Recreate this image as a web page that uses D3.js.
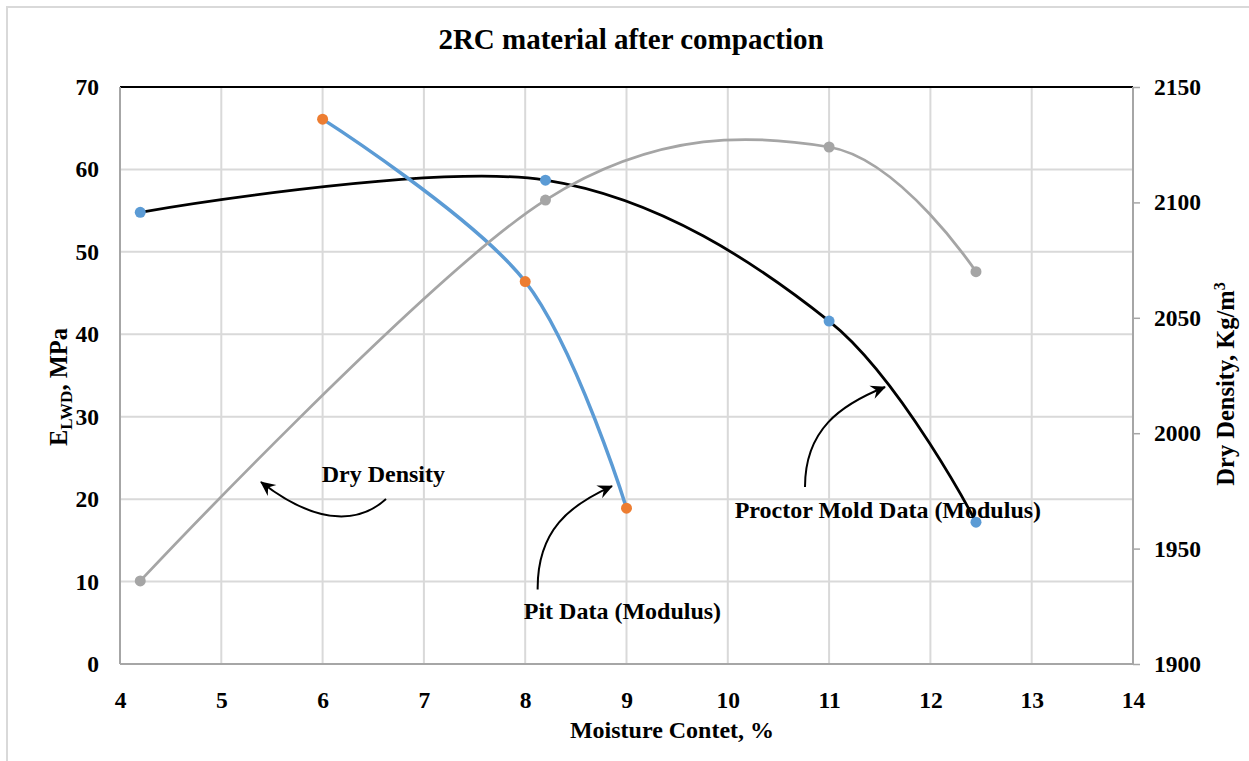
<!DOCTYPE html>
<html><head><meta charset="utf-8">
<script src="https://cdn.jsdelivr.net/npm/d3@7"></script>
<style>
body{margin:0;background:#fff}
text{font-family:"Liberation Serif","Times New Roman",serif;font-weight:bold;fill:#000}
</style>
</head><body>
<svg id="c" width="1249" height="761"></svg>
<script>
// ---- data ----
const xTicks = [4,5,6,7,8,9,10,11,12,13,14];
const yTicks = [0,10,20,30,40,50,60,70];
const y2Ticks = [1900,1950,2000,2050,2100,2150];
const proctorX = [4.2, 8.2, 11, 12.45];
const proctorY = [54.8, 58.7, 41.6, 17.2];
const pitX = [6, 8, 9];
const pitY = [66.1, 46.4, 18.9];
const densX = [4.2, 8.2, 11, 12.45];
const densY = [1936, 2101, 2124, 2070];
const title = "2RC material after compaction";
const xLabel = "Moisture Contet, %";
const annLabels = ["Dry Density", "Pit Data (Modulus)", "Proctor Mold Data (Modulus)"];
const annPos = [[6.6, 22.1], [8.96, 5.42], [11.58, 17.68]];
// arrows in data units (start, ctrl1, ctrl2, end)
const arrows = [
  [[6.626,20.02],[6.40,17.47],[6.0,16.26],[5.392,22.08]],
  [[8.123,9.04],[8.117,16.26],[8.442,19.29],[8.857,21.59]],
  [[10.762,21.47],[10.762,28.39],[11.108,31.42],[11.552,33.60]]
];

// ---- layout ----
const L=120, R=1133, T=87, B=664;
const FONT='"Liberation Serif","Times New Roman",serif';
const svg = d3.select("#c");
const x = d3.scaleLinear().domain([4,14]).range([L,R]);
const y = d3.scaleLinear().domain([0,70]).range([B,T]);
const y2 = d3.scaleLinear().domain([1900,2150]).range([B,T]);

// outer border
svg.append("rect").attr("x",7).attr("y",7).attr("width",1400).attr("height",900)
  .attr("fill","none").attr("stroke","#d9d9d9").attr("stroke-width",2);

// title
svg.append("text").attr("x",631).attr("y",49).attr("text-anchor","middle")
  .style("font-size","29px").text(title);

// gridlines
svg.append("g").selectAll("line").data(xTicks.slice(1,-1)).join("line")
  .attr("x1",d=>x(d)).attr("x2",d=>x(d)).attr("y1",T).attr("y2",B)
  .attr("stroke","#d9d9d9").attr("stroke-width",2);
svg.append("g").selectAll("line").data(yTicks.slice(1,-1)).join("line")
  .attr("y1",d=>y(d)).attr("y2",d=>y(d)).attr("x1",L).attr("x2",R)
  .attr("stroke","#d9d9d9").attr("stroke-width",2);

// axes lines
svg.append("line").attr("x1",L).attr("x2",R).attr("y1",T).attr("y2",T).attr("stroke","#000").attr("stroke-width",2);
svg.append("line").attr("x1",L).attr("x2",R).attr("y1",B).attr("y2",B).attr("stroke","#a6a6a6").attr("stroke-width",2);
svg.append("line").attr("x1",L).attr("x2",L).attr("y1",T).attr("y2",B).attr("stroke","#a6a6a6").attr("stroke-width",2);

function styleTicks(g){
  g.selectAll("text").style("font-size","23.5px").style("font-family",FONT).style("font-weight","bold").attr("fill","#000");
}
// bottom axis labels
const xa = svg.append("g").attr("transform",`translate(0,${B})`)
  .call(d3.axisBottom(x).tickValues(xTicks).tickSize(0).tickPadding(27).tickFormat(d3.format("d")));
xa.select(".domain").remove(); styleTicks(xa);

// left axis labels
const ya = svg.append("g").attr("transform",`translate(${L},0)`)
  .call(d3.axisLeft(y).tickValues(yTicks).tickSize(0).tickPadding(21).tickFormat(d3.format("d")));
ya.select(".domain").remove(); styleTicks(ya);

// right axis
const y2a = svg.append("g").attr("transform",`translate(${R},0)`)
  .call(d3.axisRight(y2).tickValues(y2Ticks).tickSize(7).tickPadding(14).tickFormat(d3.format("d")));
y2a.select(".domain").attr("stroke","#a6a6a6").attr("stroke-width",2).attr("d",`M0,${T}V${B}`);
y2a.selectAll(".tick line").attr("stroke","#a6a6a6").attr("stroke-width",1.5);
styleTicks(y2a);

// axis titles
svg.append("text").attr("x",672).attr("y",738).attr("text-anchor","middle").style("font-size","24px").text(xLabel);
const yl = svg.append("text").attr("transform","translate(67,387) rotate(-90)").attr("text-anchor","middle").style("font-size","24.5px");
yl.append("tspan").text("E");
yl.append("tspan").attr("dy",5).style("font-size","17px").text("LWD");
yl.append("tspan").attr("dy",-5).text(", MPa");
const yr = svg.append("text").attr("transform","translate(1234,384) rotate(-90)").attr("text-anchor","middle").style("font-size","24.5px");
yr.append("tspan").text("Dry Density, Kg/m");
yr.append("tspan").attr("dy",-9).style("font-size","16px").text("3");

// series
const curve = d3.curveCardinal.tension(0);
const proctor = proctorX.map((v,i)=>[v,proctorY[i]]);
const pit = pitX.map((v,i)=>[v,pitY[i]]);
const dens = densX.map((v,i)=>[v,densY[i]]);

svg.append("path").datum(proctor).attr("fill","none").attr("stroke","#000").attr("stroke-width",2.75)
  .attr("d",d3.line().x(d=>x(d[0])).y(d=>y(d[1])).curve(curve));
svg.append("g").selectAll("circle").data(proctor).join("circle")
  .attr("cx",d=>x(d[0])).attr("cy",d=>y(d[1])).attr("r",5.5).attr("fill","#5b9bd5");

svg.append("path").datum(pit).attr("fill","none").attr("stroke","#5b9bd5").attr("stroke-width",3.5)
  .attr("d",d3.line().x(d=>x(d[0])).y(d=>y(d[1])).curve(curve));
svg.append("g").selectAll("circle").data(pit).join("circle")
  .attr("cx",d=>x(d[0])).attr("cy",d=>y(d[1])).attr("r",5.5).attr("fill","#ed7d31");

svg.append("path").datum(dens).attr("fill","none").attr("stroke","#a5a5a5").attr("stroke-width",2.75)
  .attr("d",d3.line().x(d=>x(d[0])).y(d=>y2(d[1])).curve(curve));
svg.append("g").selectAll("circle").data(dens).join("circle")
  .attr("cx",d=>x(d[0])).attr("cy",d=>y2(d[1])).attr("r",5.5).attr("fill","#a5a5a5");

// annotations
svg.append("defs").append("marker").attr("id","ah").attr("markerUnits","userSpaceOnUse")
  .attr("viewBox","-16 -8 18 16").attr("refX",0).attr("refY",0)
  .attr("markerWidth",18).attr("markerHeight",16).attr("orient","auto")
  .append("path").attr("d","M1,0 L-14,-7 L-9,0 L-14,7 Z").attr("fill","#000");

svg.append("g").selectAll("path").data(arrows).join("path")
  .attr("fill","none").attr("stroke","#000").attr("stroke-width",2)
  .attr("marker-end","url(#ah)")
  .attr("d",a=>{const p=a.map(q=>[x(q[0]),y(q[1])]);
    return `M${p[0]}C${p[1]} ${p[2]} ${p[3]}`;});

svg.append("g").selectAll("text").data(annLabels).join("text")
  .attr("x",(d,i)=>x(annPos[i][0])).attr("y",(d,i)=>y(annPos[i][1]))
  .attr("text-anchor","middle").style("font-size","24px").text(d=>d);
</script>
</body></html>
